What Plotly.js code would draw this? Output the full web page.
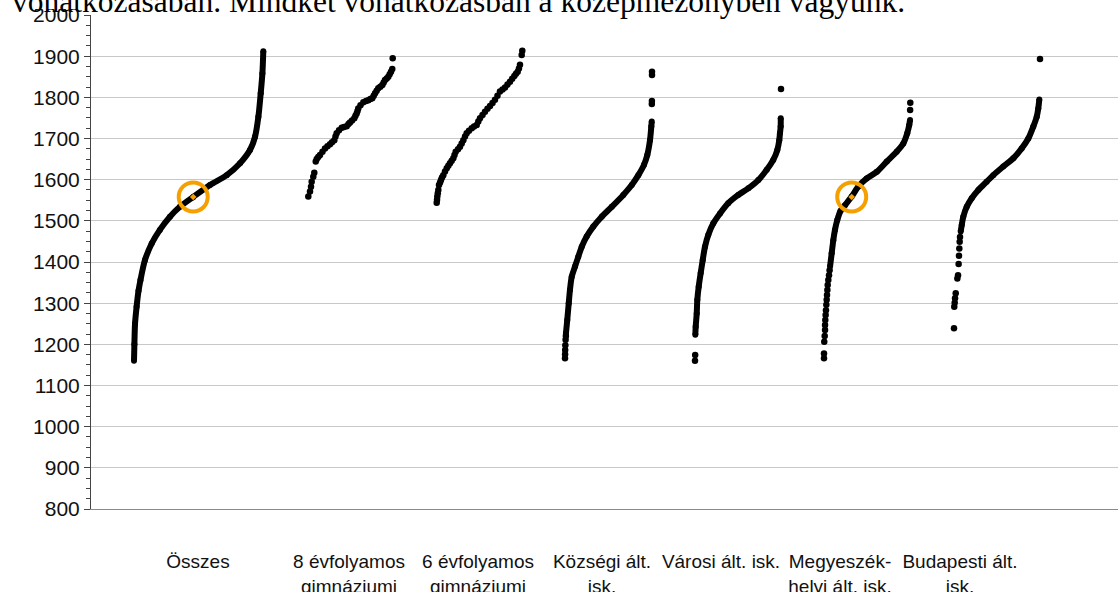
<!DOCTYPE html>
<html>
<head>
<meta charset="utf-8">
<script src="https://cdn.plot.ly/plotly-3.0.1.min.js"></script>
<style>
  html, body { margin: 0; padding: 0; background: #ffffff; }
  #chart { width: 1118px; height: 592px; }
</style>
</head>
<body>
<div id="chart"></div>
<script>
// ---------------- DATA ----------------
// x = percentile rank inside the school group (0-100), y = score
const categories = [
  'Összes',
  '8 évfolyamos<br>gimnáziumi',
  '6 évfolyamos<br>gimnáziumi',
  'Községi ált.<br>isk.',
  'Városi ált. isk.',
  'Megyeszék-<br>helyi ált. isk.',
  'Budapesti ált.<br>isk.'
];

const yTicks = [800, 900, 1000, 1100, 1200, 1300, 1400, 1500, 1600, 1700, 1800, 1900, 2000];

// Összes (all schools) - dense continuous curve
const osszesCurvePct = [0, 0.3, 0.8, 2, 3.5, 5, 8.5, 13.7, 20, 27.8, 35.5, 45.8, 58.8, 71.7, 82, 89.7, 93.6, 96.2, 98, 99.3, 100];
const osszesCurveVal = [1160, 1200, 1250, 1291, 1330, 1356, 1405, 1445, 1478, 1510, 1534, 1558, 1587, 1611, 1640, 1672, 1704, 1753, 1810, 1858, 1912];
const osszesDotPct = [];
const osszesDotVal = [];

// 8 évfolyamos gimnáziumi - individual dots
const evf8DotPct = [0, 2.0, 3.2, 4.0, 5.9, 7.1, 8.8, 10.0, 11.8, 13.9, 16.8, 19.8, 22.7, 25.7, 28.1, 30.8, 32.2, 33.6, 36.4, 39.6,
  42.3, 45.5, 47.6, 49.4, 51.8, 54.5, 55.9, 57.3, 58.3, 59.2, 61.8, 65.2, 68.4, 71.1, 73.5, 75.8, 77.5, 79.1, 81.0, 82.9,
  85.3, 87.7, 89.3, 90.9, 92.9, 94.8, 96.4, 98.0, 99.5, 100];
const evf8DotVal = [1559, 1571, 1583, 1595, 1607, 1617, 1644, 1650, 1655, 1660, 1668, 1676, 1681, 1686, 1691, 1696, 1705, 1713, 1720, 1726,
  1728, 1730, 1735, 1739, 1744, 1749, 1755, 1761, 1767, 1773, 1781, 1788, 1791, 1793, 1796, 1798, 1804, 1810, 1816, 1822,
  1826, 1830, 1836, 1842, 1846, 1850, 1856, 1862, 1869, 1895];

// 6 évfolyamos gimnáziumi - individual dots
const evf6DotPct = [0, 0.4, 0.7, 1.3, 1.9, 2.7, 3.9, 5.0, 6.2, 7.7, 9.7, 11.7, 13.6, 15.5, 17.5, 19.4, 20.8, 22.2, 24.9, 27.2,
  29.2, 31.1, 33.1, 35.0, 37.7, 40.9, 43.6, 46.7, 48.6, 50.6, 53.5, 56.4, 59.3, 62.3, 65.2, 68.1, 71.0, 73.9, 76.9, 79.8,
  82.7, 85.6, 88.2, 90.7, 92.6, 94.6, 96.1, 97.3, 99.3, 100];
const evf6DotVal = [1544, 1551, 1559, 1567, 1575, 1587, 1593, 1599, 1605, 1611, 1620, 1628, 1634, 1640, 1646, 1652, 1660, 1668, 1674, 1680,
  1688, 1696, 1705, 1713, 1719, 1725, 1729, 1733, 1741, 1749, 1757, 1765, 1772, 1779, 1786, 1794, 1804, 1814, 1819, 1824,
  1831, 1838, 1845, 1852, 1857, 1862, 1870, 1879, 1903, 1913];

// Községi ált. isk.
const kozsegiCurvePct = [1.1, 2.6, 4.3, 5.7, 7.7, 11.5, 15.3, 19.2, 24.9, 32.5, 42.2, 53.7, 67.0, 76.7, 84.3, 90.8, 94.6, 97.7, 99.2, 99.7];
const kozsegiCurveVal = [1227, 1259, 1300, 1332, 1364, 1389, 1413, 1437, 1462, 1486, 1510, 1534, 1563, 1587, 1611, 1636, 1660, 1696, 1729, 1741];
const kozsegiDotPct = [0, 0.1, 0.2, 0.4, 0.7, 1.0, 99.8, 99.9, 100, 100];
const kozsegiDotVal = [1166, 1176, 1186, 1198, 1211, 1220, 1784, 1791, 1854, 1862];

// Városi ált. isk.
const varosiCurvePct = [0.4, 0.8, 2.0, 2.7, 4.3, 6.6, 9.0, 11.6, 15.5, 21.3, 29.1, 38.7, 50.3, 62.0, 73.6, 83.4, 91.0, 95.7, 98.0, 98.8, 99.6, 99.7];
const varosiCurveVal = [1223, 1243, 1275, 1308, 1340, 1373, 1405, 1437, 1466, 1494, 1518, 1543, 1563, 1579, 1599, 1624, 1648, 1672, 1696, 1713, 1729, 1749];
const varosiDotPct = [0, 0.2, 100];
const varosiDotVal = [1160, 1174, 1820];

// Megyeszékhelyi ált. isk.
const megyeCurvePct = [7.0, 8.9, 10.8, 12.7, 15.4, 19.1, 24.3, 32.1, 39.7, 49.5, 61.1, 72.7, 84.2, 91.9, 96.5, 98.8, 99.7];
const megyeCurveVal = [1389, 1421, 1453, 1478, 1502, 1524, 1538, 1559, 1583, 1603, 1619, 1644, 1668, 1688, 1713, 1733, 1745];
const megyeDotPct = [0, 0, 0.3, 0.8, 1.2, 1.2, 1.5, 1.9, 2.3, 2.7, 3.1, 3.5, 3.9, 4.3, 5.0, 5.8, 6.5, 99.8, 100];
const megyeDotVal = [1166, 1178, 1206, 1220, 1235, 1247, 1259, 1271, 1283, 1296, 1308, 1320, 1332, 1344, 1356, 1368, 1380, 1769, 1787];

// Budapesti ált. isk.
const budapestCurvePct = [7.8, 9.0, 10.8, 14.8, 20.6, 28.3, 38.0, 45.7, 57.3, 69.0, 78.7, 86.4, 92.2, 96.2, 98.0, 99.2];
const budapestCurveVal = [1474, 1490, 1510, 1534, 1555, 1575, 1595, 1611, 1632, 1652, 1676, 1700, 1729, 1753, 1773, 1795];
const budapestDotPct = [0, 0.3, 0.8, 1.2, 2.0, 3.9, 4.7, 5.4, 5.8, 6.2, 6.6, 7.0, 100];
const budapestDotVal = [1239, 1291, 1301, 1312, 1324, 1360, 1368, 1395, 1415, 1433, 1449, 1461, 1893];

// highlighted (Hungary-level) positions
const highlightGroup = [0, 5];
const highlightPct = [45.8, 32.1];
const highlightVal = [1558, 1558];

// ---------------- LAYOUT CONFIG (positions, not data) ----------------
const groupStart = [43, 217.3, 345.7, 474, 604, 733, 863];
const groupWidth = [129.3, 84.4, 85.6, 87, 86, 86.3, 86];
const labelPos = [107, 258, 387, 511, 630, 749, 869];

const curves = [
  [osszesCurvePct, osszesCurveVal],
  [[], []],
  [[], []],
  [kozsegiCurvePct, kozsegiCurveVal],
  [varosiCurvePct, varosiCurveVal],
  [megyeCurvePct, megyeCurveVal],
  [budapestCurvePct, budapestCurveVal]
];
const dots = [
  [osszesDotPct, osszesDotVal],
  [evf8DotPct, evf8DotVal],
  [evf6DotPct, evf6DotVal],
  [kozsegiDotPct, kozsegiDotVal],
  [varosiDotPct, varosiDotVal],
  [megyeDotPct, megyeDotVal],
  [budapestDotPct, budapestDotVal]
];

const toX = (g, p) => groupStart[g] + p / 100 * groupWidth[g];

const traces = [];
curves.forEach((c, g) => {
  if (!c[0].length) return;
  traces.push({
    type: 'scatter', mode: 'lines+markers',
    x: c[0].map(p => toX(g, p)), y: c[1],
    line: { color: '#000000', width: 6, shape: 'spline', smoothing: 0.8 },
    marker: { color: '#000000', size: 6 },
    hoverinfo: 'skip', showlegend: false
  });
});
dots.forEach((d, g) => {
  if (!d[0].length) return;
  traces.push({
    type: 'scatter', mode: 'markers',
    x: d[0].map(p => toX(g, p)), y: d[1],
    marker: { color: '#000000', size: 6.5 },
    hoverinfo: 'skip', showlegend: false
  });
});
traces.push({
  type: 'scatter', mode: 'markers',
  x: highlightGroup.map((g, i) => toX(g, highlightPct[i])), y: highlightVal,
  marker: { symbol: 'circle-open-dot', size: 29, color: '#F5A000', line: { color: '#F5A000', width: 4 } },
  hoverinfo: 'skip', showlegend: false
});

const PLOT_L = 91, PLOT_W = 1027, PLOT_T = 15, PLOT_H = 494;

const layout = {
  width: 1118, height: 592,
  margin: { l: PLOT_L, r: 0, t: PLOT_T, b: 83, pad: 0 },
  paper_bgcolor: '#ffffff', plot_bgcolor: '#ffffff',
  showlegend: false,
  font: { family: 'Liberation Sans, Arial, sans-serif', color: '#111111' },
  xaxis: {
    range: [0, PLOT_W], showgrid: false, zeroline: false,
    showline: true, linecolor: '#8a8a8a', linewidth: 1,
    tickvals: labelPos, ticktext: categories, ticks: '',
    ticklabelstandoff: 35,
    tickfont: { size: 19, color: '#111111', family: 'Liberation Sans, Arial, sans-serif' },
    fixedrange: true
  },
  yaxis: {
    range: [800, 2000], tickvals: yTicks, showgrid: true, gridcolor: '#c8c8c8', gridwidth: 1,
    zeroline: false, showline: true, linecolor: '#444444', linewidth: 1,
    ticks: 'outside', ticklen: 6, tickcolor: '#444444', tickwidth: 1,
    minor: { dtick: 25, tick0: 800, ticks: 'outside', ticklen: 4, tickcolor: '#444444', showgrid: false },
    tickfont: { size: 21, color: '#111111', family: 'Liberation Sans, Arial, sans-serif' },
    fixedrange: true
  },
  shapes: [
    // hide the 2000 gridline
    { type: 'line', xref: 'x', yref: 'y', x0: 0, x1: PLOT_W, y0: 2000, y1: 2000,
      line: { color: '#ffffff', width: 2 }, layer: 'between' },
    // white band of the document text above the chart
    { type: 'rect', xref: 'paper', yref: 'paper',
      x0: -PLOT_L / PLOT_W, x1: 1, y0: 1 + (PLOT_T - 9) / PLOT_H, y1: 1 + (PLOT_T + 5) / PLOT_H,
      fillcolor: '#ffffff', line: { width: 0 }, layer: 'above' }
  ],
  annotations: [
    { text: 'vonatkozásában. Mindkét vonatkozásban a középmezőnyben vagyunk.',
      xref: 'paper', yref: 'paper', x: (10 - PLOT_L) / PLOT_W, xanchor: 'left',
      y: 1 + (PLOT_T - 21) / PLOT_H, yanchor: 'bottom', showarrow: false,
      font: { family: 'Liberation Serif, Times New Roman, serif', size: 31.5, color: '#000000' } }
  ]
};

Plotly.newPlot('chart', traces, layout, { staticPlot: true, displayModeBar: false });
</script>
</body>
</html>
